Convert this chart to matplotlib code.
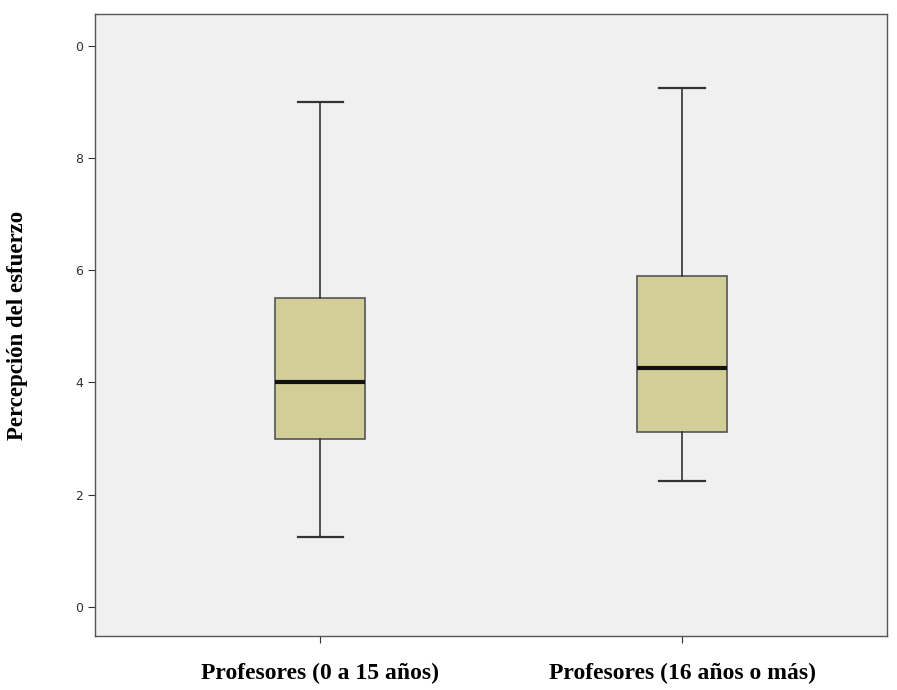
import matplotlib.pyplot as plt

# Summary statistics per group (effort perception score)
groups = ["Profesores (0 a 15 años)", "Profesores (16 años o más)"]
whislo = [1.25, 2.25]
q1 = [3.0, 3.12]
med = [4.0, 4.25]
q3 = [5.5, 5.9]
whishi = [9.0, 9.25]

yticks = [0, 2, 4, 6, 8, 10]
ytick_labels = ["0", "2", "4", "6", "8", "0"]

stats = [
    dict(label=g, whislo=lo, q1=a, med=m, q3=b, whishi=hi, fliers=[])
    for g, lo, a, m, b, hi in zip(groups, whislo, q1, med, q3, whishi)
]

fig = plt.figure(figsize=(8.97, 6.9), dpi=100)
ax = fig.add_axes([95 / 897, 1 - 636 / 690, 792 / 897, 622 / 690])
ax.set_facecolor("#f0f0f0")

ax.bxp(
    stats, positions=[1, 2], widths=0.25, patch_artist=True,
    boxprops=dict(facecolor="#d3ce98", edgecolor="#555555", linewidth=1.2),
    medianprops=dict(color="#111111", linewidth=3),
    whiskerprops=dict(color="#333333", linewidth=1.2),
    capprops=dict(color="#333333", linewidth=1.6),
    capwidths=0.125,
)

ax.set_xlim(0.378, 2.566)
ax.set_ylim(-0.52, 10.57)
ax.set_yticks(yticks)
ax.set_yticklabels(ytick_labels, fontsize=9, color="#333333")
ax.set_xticks([1, 2])
ax.set_xticklabels(groups, fontsize=17, fontweight="bold", family="Liberation Serif")
ax.tick_params(axis="x", length=5, pad=14, color="#333333")
ax.tick_params(axis="y", length=5, color="#333333")

for s in ax.spines.values():
    s.set_color("#555555")
    s.set_linewidth(1.0)

ax.set_ylabel("Percepción del esfuerzo", fontsize=16.5, fontweight="bold",
              family="Liberation Serif")
ax.yaxis.set_label_coords(-0.085, 0.5)

fig.savefig("out.png", dpi=100, facecolor="white")
